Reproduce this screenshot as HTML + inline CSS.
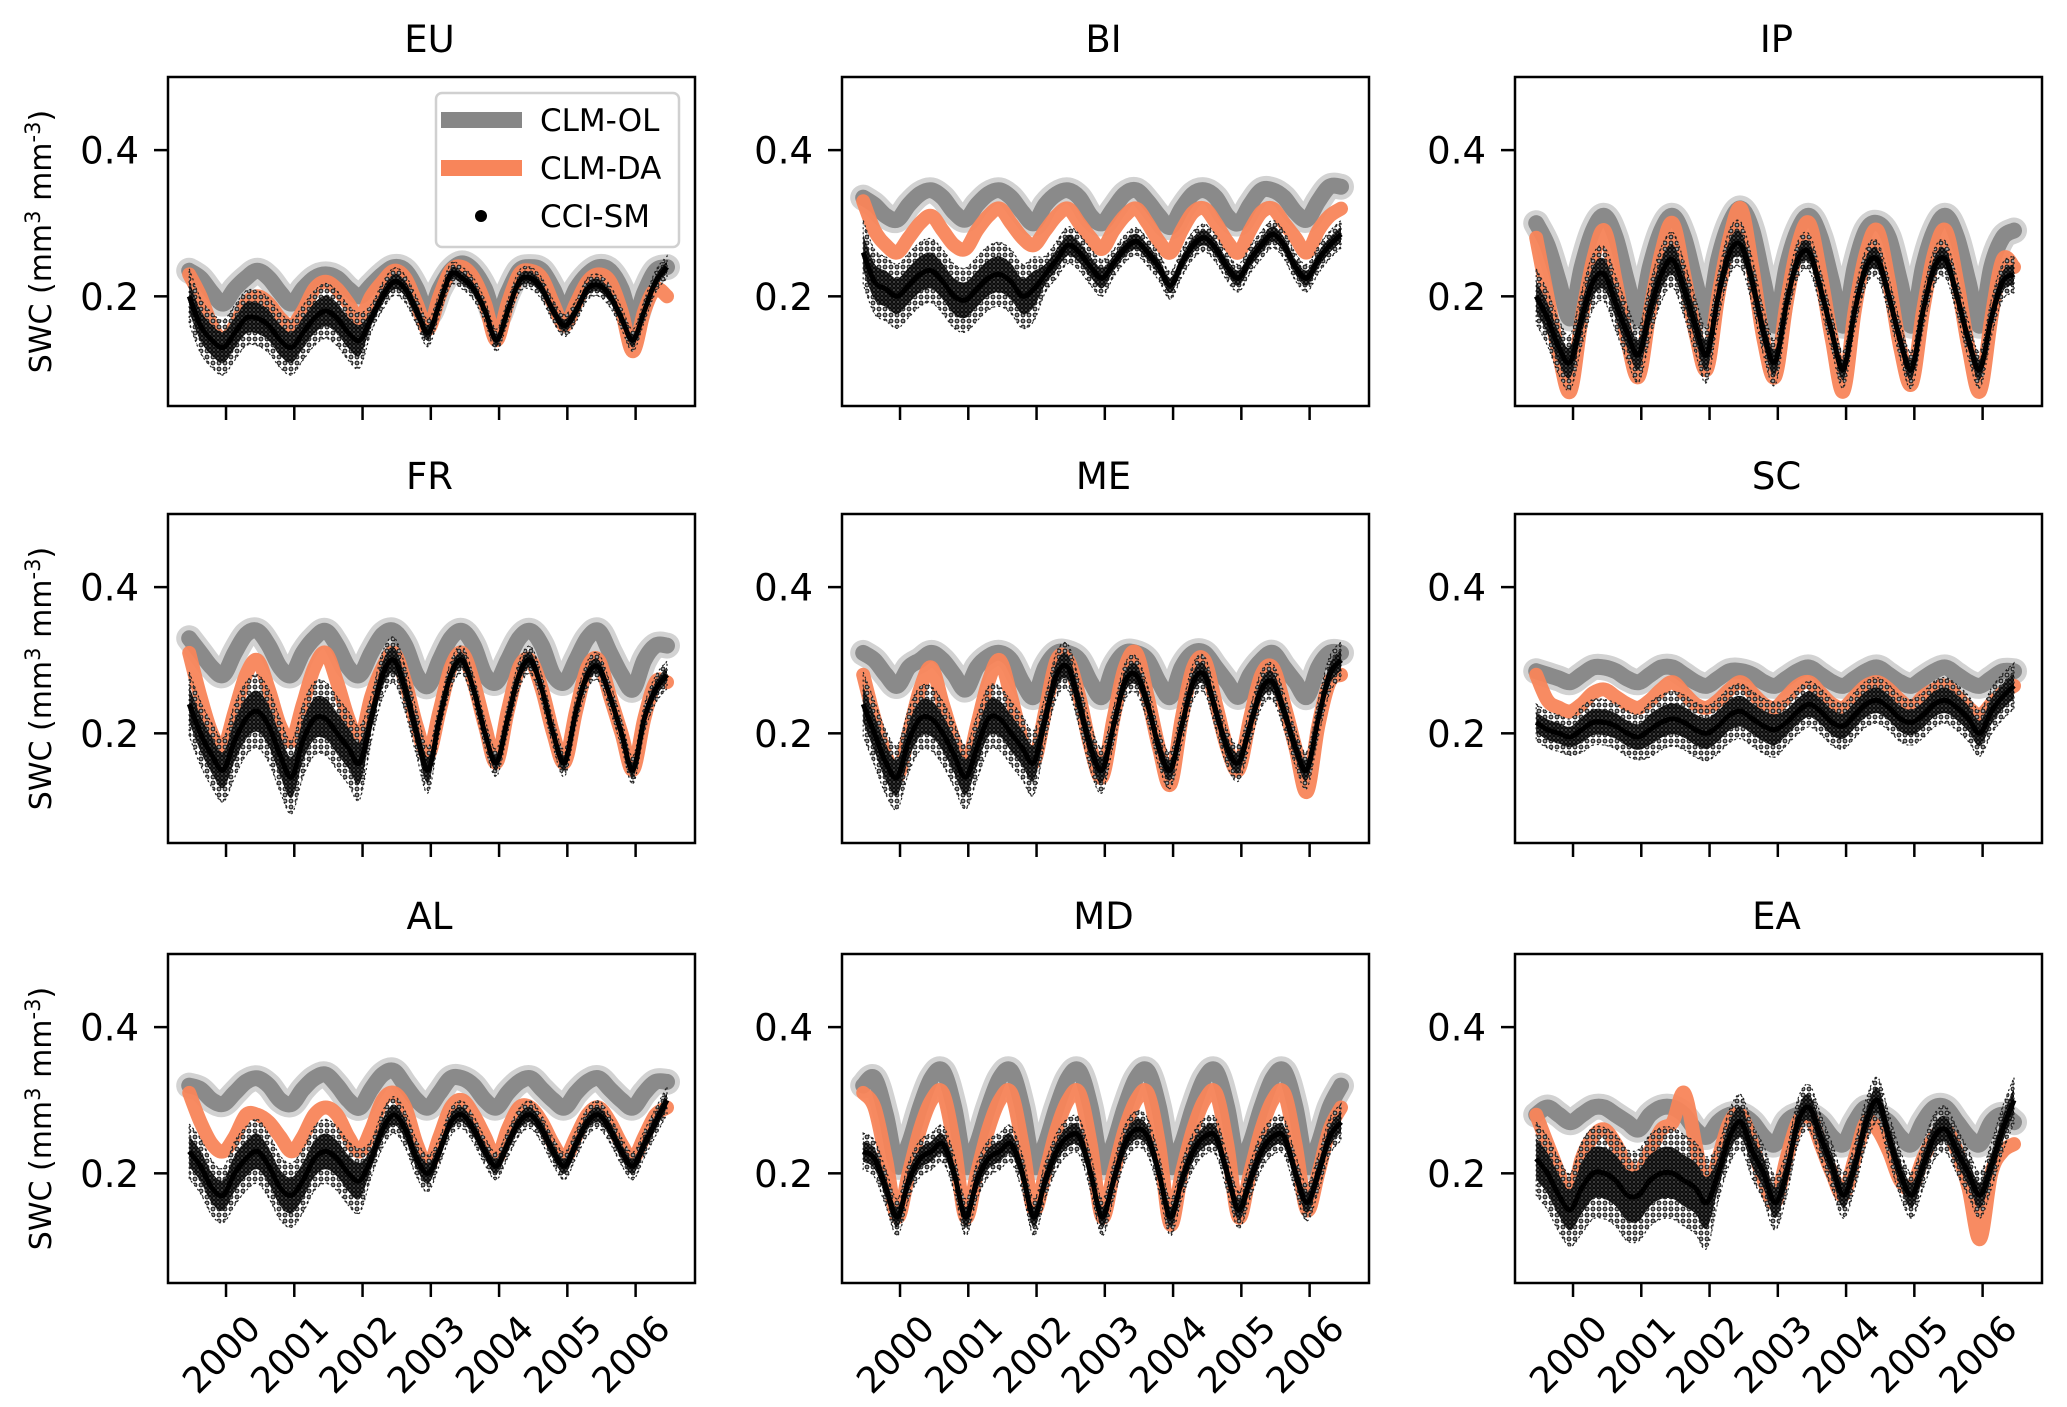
<!DOCTYPE html>
<html><head><meta charset="utf-8"><style>
html,body{margin:0;padding:0;background:#fff;}
svg{display:block;font-family:"DejaVu Sans","Liberation Sans",sans-serif;}
</style></head><body>
<svg id="fig" width="2067" height="1407" viewBox="0 0 2067 1407" xmlns="http://www.w3.org/2000/svg">
<defs>
<pattern id="dotsOuter" width="6" height="6" patternUnits="userSpaceOnUse"><circle cx="3" cy="3" r="1.9" fill="#999" stroke="#111" stroke-width="1"/></pattern>
<pattern id="dotsInner" width="4" height="4" patternUnits="userSpaceOnUse"><rect width="4" height="4" fill="#222"/><circle cx="2" cy="2" r="1.3" fill="#666" stroke="#000" stroke-width="0.8"/></pattern>
</defs>
</svg>
<script>
const regions = ["EU","BI","IP","FR","ME","SC","AL","MD","EA"];
const tStart = 1999.46, tStep = 1/6;
const yTicks = [0.2, 0.4];
const xTickYears = [2000,2001,2002,2003,2004,2005,2006];
const xTickLabels = ["2000","2001","2002","2003","2004","2005","2006"];
const spreadYears = [1999,2000,2001,2002,2003,2004,2005,2006];

const olEU=[0.235,0.225,0.205,0.19,0.21,0.225,0.235,0.225,0.205,0.19,0.21,0.225,0.23,0.225,0.21,0.20,0.215,0.23,0.24,0.235,0.21,0.175,0.21,0.235,0.245,0.235,0.21,0.17,0.205,0.235,0.24,0.235,0.21,0.18,0.21,0.23,0.24,0.235,0.21,0.165,0.205,0.235,0.24];
const daEU=[0.23,0.20,0.16,0.14,0.16,0.19,0.20,0.19,0.17,0.16,0.18,0.21,0.22,0.21,0.19,0.17,0.20,0.22,0.235,0.225,0.19,0.155,0.20,0.235,0.24,0.225,0.19,0.14,0.19,0.23,0.235,0.225,0.19,0.16,0.19,0.22,0.23,0.22,0.18,0.125,0.18,0.21,0.20];
const obsEU=[0.20,0.16,0.14,0.13,0.15,0.17,0.17,0.16,0.14,0.13,0.15,0.17,0.18,0.17,0.15,0.14,0.17,0.20,0.22,0.21,0.18,0.15,0.19,0.23,0.225,0.21,0.18,0.14,0.18,0.22,0.225,0.21,0.18,0.16,0.18,0.21,0.215,0.20,0.17,0.14,0.18,0.22,0.24];
const spEU=[0.03,0.03,0.03,0.015,0.012,0.012,0.012,0.012];

const olBI=[0.335,0.325,0.31,0.305,0.325,0.34,0.345,0.335,0.315,0.305,0.325,0.34,0.345,0.335,0.315,0.30,0.325,0.34,0.345,0.335,0.31,0.30,0.32,0.34,0.345,0.33,0.31,0.295,0.32,0.34,0.345,0.335,0.31,0.30,0.325,0.345,0.345,0.335,0.315,0.305,0.33,0.35,0.35];
const daBI=[0.33,0.29,0.27,0.26,0.28,0.30,0.31,0.29,0.27,0.265,0.29,0.31,0.32,0.30,0.28,0.27,0.29,0.31,0.32,0.30,0.28,0.265,0.29,0.31,0.32,0.30,0.275,0.26,0.29,0.315,0.32,0.30,0.275,0.26,0.29,0.315,0.32,0.30,0.28,0.26,0.29,0.31,0.32];
const obsBI=[0.26,0.22,0.21,0.20,0.215,0.23,0.235,0.22,0.20,0.195,0.21,0.225,0.23,0.22,0.20,0.21,0.23,0.25,0.27,0.26,0.24,0.225,0.245,0.265,0.275,0.26,0.24,0.215,0.245,0.27,0.28,0.265,0.24,0.225,0.25,0.27,0.285,0.27,0.24,0.225,0.25,0.27,0.285];
const spBI=[0.035,0.035,0.035,0.02,0.015,0.015,0.015,0.015];

const olIP=[0.30,0.27,0.22,0.17,0.24,0.29,0.31,0.28,0.22,0.17,0.24,0.29,0.31,0.28,0.22,0.17,0.25,0.30,0.32,0.29,0.22,0.16,0.24,0.29,0.31,0.28,0.22,0.16,0.24,0.29,0.30,0.28,0.22,0.16,0.24,0.29,0.31,0.28,0.22,0.16,0.24,0.28,0.29];
const daIP=[0.28,0.20,0.12,0.07,0.17,0.25,0.29,0.22,0.14,0.09,0.18,0.26,0.30,0.23,0.15,0.10,0.20,0.28,0.32,0.24,0.14,0.09,0.19,0.27,0.30,0.23,0.14,0.07,0.18,0.26,0.29,0.22,0.13,0.08,0.18,0.26,0.29,0.22,0.13,0.07,0.17,0.25,0.24];
const obsIP=[0.20,0.17,0.13,0.11,0.17,0.22,0.23,0.19,0.15,0.12,0.18,0.23,0.25,0.21,0.16,0.12,0.20,0.26,0.27,0.22,0.15,0.11,0.19,0.25,0.26,0.21,0.15,0.10,0.18,0.24,0.25,0.20,0.14,0.10,0.18,0.24,0.25,0.20,0.14,0.10,0.17,0.22,0.23];
const spIP=[0.03,0.03,0.03,0.025,0.02,0.02,0.02,0.02];

const olFR=[0.33,0.31,0.29,0.28,0.31,0.335,0.34,0.32,0.29,0.28,0.31,0.33,0.34,0.32,0.29,0.28,0.31,0.335,0.34,0.32,0.28,0.265,0.30,0.33,0.34,0.32,0.28,0.27,0.30,0.33,0.34,0.32,0.28,0.27,0.30,0.33,0.34,0.31,0.28,0.26,0.30,0.32,0.32];
const daFR=[0.31,0.25,0.20,0.18,0.23,0.28,0.30,0.26,0.21,0.19,0.24,0.29,0.31,0.27,0.22,0.19,0.25,0.29,0.31,0.27,0.21,0.17,0.23,0.29,0.31,0.27,0.21,0.16,0.23,0.29,0.30,0.26,0.20,0.16,0.23,0.29,0.30,0.25,0.20,0.15,0.22,0.27,0.27];
const obsFR=[0.24,0.20,0.17,0.15,0.19,0.22,0.23,0.21,0.17,0.14,0.19,0.22,0.22,0.20,0.18,0.16,0.22,0.28,0.30,0.26,0.20,0.15,0.22,0.28,0.30,0.26,0.20,0.16,0.22,0.28,0.30,0.26,0.20,0.16,0.23,0.28,0.29,0.25,0.20,0.15,0.22,0.26,0.28];
const spFR=[0.035,0.04,0.04,0.025,0.015,0.015,0.015,0.015];

const olME=[0.31,0.30,0.28,0.265,0.29,0.30,0.31,0.30,0.28,0.26,0.29,0.305,0.31,0.30,0.27,0.25,0.29,0.31,0.31,0.30,0.27,0.25,0.29,0.31,0.31,0.30,0.27,0.25,0.29,0.31,0.31,0.29,0.27,0.25,0.28,0.30,0.31,0.29,0.27,0.25,0.29,0.31,0.31];
const daME=[0.28,0.22,0.17,0.14,0.20,0.26,0.29,0.24,0.19,0.15,0.21,0.27,0.30,0.25,0.19,0.16,0.23,0.30,0.30,0.25,0.18,0.14,0.22,0.29,0.31,0.25,0.18,0.13,0.22,0.29,0.30,0.24,0.18,0.15,0.22,0.28,0.29,0.24,0.18,0.12,0.21,0.27,0.28];
const obsME=[0.24,0.20,0.16,0.14,0.19,0.22,0.22,0.20,0.17,0.14,0.18,0.22,0.22,0.20,0.18,0.16,0.22,0.28,0.29,0.24,0.18,0.15,0.21,0.27,0.28,0.24,0.18,0.15,0.21,0.27,0.28,0.23,0.18,0.16,0.21,0.26,0.27,0.23,0.18,0.15,0.22,0.28,0.30];
const spME=[0.035,0.035,0.035,0.025,0.02,0.02,0.02,0.02];

const olSC=[0.285,0.28,0.275,0.27,0.28,0.29,0.29,0.285,0.275,0.27,0.28,0.29,0.29,0.28,0.27,0.265,0.275,0.285,0.285,0.28,0.27,0.265,0.275,0.285,0.29,0.28,0.27,0.265,0.275,0.285,0.29,0.28,0.27,0.265,0.275,0.285,0.29,0.28,0.27,0.265,0.275,0.285,0.285];
const daSC=[0.28,0.245,0.235,0.23,0.24,0.255,0.26,0.25,0.24,0.235,0.245,0.26,0.27,0.255,0.24,0.235,0.245,0.26,0.27,0.255,0.24,0.235,0.25,0.265,0.27,0.255,0.24,0.235,0.25,0.265,0.27,0.26,0.245,0.235,0.25,0.26,0.265,0.25,0.235,0.225,0.24,0.255,0.265];
const obsSC=[0.215,0.205,0.20,0.195,0.205,0.215,0.215,0.21,0.20,0.195,0.205,0.215,0.22,0.215,0.205,0.20,0.21,0.225,0.23,0.22,0.21,0.205,0.215,0.23,0.24,0.23,0.215,0.21,0.225,0.24,0.245,0.235,0.22,0.215,0.225,0.24,0.245,0.235,0.22,0.20,0.23,0.25,0.265];
const spSC=[0.02,0.025,0.03,0.03,0.025,0.025,0.025,0.025];

const olAL=[0.32,0.315,0.30,0.295,0.31,0.325,0.33,0.32,0.30,0.295,0.315,0.33,0.335,0.32,0.30,0.29,0.315,0.335,0.34,0.32,0.30,0.29,0.31,0.33,0.33,0.32,0.30,0.29,0.31,0.325,0.33,0.315,0.30,0.29,0.31,0.325,0.33,0.315,0.30,0.29,0.31,0.325,0.325];
const daAL=[0.31,0.27,0.24,0.23,0.25,0.28,0.28,0.27,0.25,0.23,0.25,0.28,0.29,0.28,0.25,0.23,0.26,0.30,0.31,0.29,0.24,0.21,0.25,0.29,0.30,0.28,0.25,0.22,0.26,0.29,0.29,0.27,0.24,0.22,0.25,0.28,0.29,0.27,0.24,0.22,0.25,0.28,0.29];
const obsAL=[0.23,0.21,0.18,0.17,0.20,0.22,0.23,0.21,0.18,0.17,0.19,0.22,0.23,0.22,0.20,0.19,0.22,0.26,0.28,0.26,0.22,0.20,0.23,0.27,0.28,0.26,0.23,0.21,0.24,0.27,0.28,0.26,0.23,0.21,0.24,0.27,0.28,0.26,0.23,0.21,0.24,0.27,0.30];
const spAL=[0.03,0.035,0.035,0.02,0.015,0.015,0.015,0.015];

const olMD=[0.32,0.33,0.28,0.21,0.24,0.29,0.33,0.34,0.29,0.21,0.24,0.29,0.33,0.34,0.29,0.21,0.24,0.29,0.33,0.34,0.29,0.21,0.24,0.29,0.33,0.34,0.29,0.21,0.24,0.29,0.33,0.34,0.29,0.21,0.24,0.29,0.33,0.34,0.29,0.21,0.24,0.29,0.32];
const daMD=[0.31,0.29,0.22,0.14,0.20,0.26,0.30,0.31,0.24,0.14,0.20,0.26,0.30,0.31,0.24,0.15,0.20,0.26,0.30,0.31,0.24,0.14,0.20,0.26,0.30,0.31,0.24,0.13,0.20,0.26,0.30,0.31,0.24,0.14,0.20,0.26,0.30,0.31,0.24,0.15,0.20,0.26,0.29];
const obsMD=[0.23,0.22,0.18,0.14,0.19,0.22,0.23,0.24,0.20,0.14,0.19,0.22,0.23,0.24,0.20,0.14,0.19,0.23,0.25,0.25,0.20,0.14,0.19,0.24,0.26,0.25,0.20,0.14,0.19,0.23,0.25,0.25,0.20,0.15,0.19,0.23,0.25,0.25,0.20,0.16,0.20,0.25,0.27];
const spMD=[0.02,0.02,0.02,0.02,0.02,0.02,0.02,0.02];

const olEA=[0.28,0.29,0.28,0.27,0.28,0.29,0.29,0.28,0.27,0.26,0.28,0.29,0.29,0.28,0.26,0.25,0.27,0.28,0.28,0.27,0.25,0.24,0.27,0.28,0.28,0.27,0.25,0.24,0.27,0.29,0.28,0.27,0.25,0.24,0.27,0.29,0.29,0.27,0.25,0.24,0.27,0.28,0.27];
const daEA=[0.28,0.24,0.20,0.16,0.22,0.25,0.26,0.24,0.21,0.20,0.23,0.26,0.27,0.31,0.24,0.17,0.22,0.27,0.28,0.24,0.19,0.16,0.22,0.27,0.28,0.24,0.20,0.17,0.22,0.27,0.26,0.23,0.19,0.18,0.22,0.25,0.26,0.23,0.18,0.11,0.20,0.23,0.24];
const obsEA=[0.22,0.20,0.17,0.15,0.18,0.20,0.20,0.19,0.17,0.17,0.19,0.20,0.20,0.19,0.18,0.16,0.20,0.25,0.27,0.23,0.20,0.16,0.20,0.27,0.29,0.25,0.21,0.17,0.21,0.27,0.30,0.25,0.20,0.17,0.21,0.25,0.26,0.23,0.20,0.17,0.21,0.26,0.30];
const spEA=[0.04,0.05,0.05,0.03,0.025,0.025,0.025,0.025];

const OL={EU:olEU,BI:olBI,IP:olIP,FR:olFR,ME:olME,SC:olSC,AL:olAL,MD:olMD,EA:olEA};
const DA={EU:daEU,BI:daBI,IP:daIP,FR:daFR,ME:daME,SC:daSC,AL:daAL,MD:daMD,EA:daEA};
const OBS={EU:obsEU,BI:obsBI,IP:obsIP,FR:obsFR,ME:obsME,SC:obsSC,AL:obsAL,MD:obsMD,EA:obsEA};
const SP={EU:spEU,BI:spBI,IP:spIP,FR:spFR,ME:spME,SC:spSC,AL:spAL,MD:spMD,EA:spEA};

const NS="http://www.w3.org/2000/svg";
const svg=document.getElementById('fig');
const colLeft=[168,842,1515], rowTop=[77,514,954], W=527, H=329;
const xMin=1999.15, xMax=2006.87, yMin=0.05, yMax=0.5;

function mk(tag,attrs,parent){const e=document.createElementNS(NS,tag);for(const k in attrs)e.setAttribute(k,attrs[k]);parent.appendChild(e);return e;}
function smooth(pts){
  let d="M"+pts[0][0].toFixed(1)+","+pts[0][1].toFixed(1);
  for(let i=0;i<pts.length-1;i++){
    const p0=pts[Math.max(0,i-1)],p1=pts[i],p2=pts[i+1],p3=pts[Math.min(pts.length-1,i+2)];
    const c1=[p1[0]+(p2[0]-p0[0])/6,p1[1]+(p2[1]-p0[1])/6],c2=[p2[0]-(p3[0]-p1[0])/6,p2[1]-(p3[1]-p1[1])/6];
    d+="C"+c1[0].toFixed(1)+","+c1[1].toFixed(1)+" "+c2[0].toFixed(1)+","+c2[1].toFixed(1)+" "+p2[0].toFixed(1)+","+p2[1].toFixed(1);
  }
  return d;
}

regions.forEach((reg,idx)=>{
  const c=idx%3,r=Math.floor(idx/3),L=colLeft[c],T=rowTop[r];
  const xs=t=>L+(t-xMin)/(xMax-xMin)*W;
  const ys=v=>T+H-(v-yMin)/(yMax-yMin)*H;
  const g=mk('g',{},svg);
  
  
  const cp=mk('clipPath',{id:'clip'+idx},g);
  mk('rect',{x:L,y:T,width:W,height:H},cp);
  const plot=mk('g',{'clip-path':'url(#clip'+idx+')'},g);
  const times=OL[reg].map((_,i)=>tStart+i*tStep);
  const olPts=OL[reg].map((v,i)=>[xs(times[i]),ys(v)]);
  const olHalo=mk('path',{d:smooth(olPts),fill:'none',stroke:'#d2d2d2','stroke-width':26,'stroke-linejoin':'round','stroke-linecap':'round'},plot);
  
  
  const olLine=mk('path',{d:smooth(olPts),fill:'none',stroke:'#8a8a8a','stroke-width':16,'stroke-linejoin':'round','stroke-linecap':'round'},plot);
  
  
  const daPts=DA[reg].map((v,i)=>[xs(times[i]),ys(v)]);
  const daLine=mk('path',{d:smooth(daPts),fill:'none',stroke:'#f8855a','stroke-width':14,'stroke-linejoin':'round','stroke-linecap':'round','stroke-opacity':0.95},plot);
  
  
  const spr=SP[reg];
  const spAt=t=>spr[Math.max(0,Math.min(spr.length-1,spreadYears.indexOf(Math.floor(t))))];
  const band=(f)=>{
    const up=OBS[reg].map((v,i)=>[xs(times[i]),ys(v+spAt(times[i])*f)]);
    const lo=OBS[reg].map((v,i)=>[xs(times[i]),ys(v-spAt(times[i])*f)]).reverse();
    return smooth(up)+"L"+smooth(lo).slice(1)+"Z";
  };
  const outer=mk('path',{d:band(1.25),fill:'url(#dotsOuter)',stroke:'#222','stroke-width':1.2,'stroke-dasharray':'2 3'},plot);
  
  
  const inner=mk('path',{d:band(0.7),fill:'url(#dotsInner)',stroke:'none'},plot);
  
  
  const obsPts=OBS[reg].map((v,i)=>[xs(times[i]),ys(v)]);
  const obsLine=mk('path',{d:smooth(obsPts),fill:'none',stroke:'#000','stroke-width':5},plot);
  
  
  const frame=mk('rect',{x:L,y:T,width:W,height:H,fill:'none',stroke:'#000','stroke-width':2.5},g);
  
  
  yTicks.forEach(v=>{
    const y=ys(v);
    const tk=mk('line',{x1:L-14,x2:L,y1:y,y2:y,stroke:'#000','stroke-width':2.5},g);
    
    
    const tl=mk('text',{x:L-29,y:y+13.5,'text-anchor':'end','font-size':37,fill:'#000'},g);
    tl.textContent=String(v);
    
    
  });
  xTickYears.forEach((yr,k)=>{
    const x=xs(yr);
    const tk=mk('line',{x1:x,x2:x,y1:T+H,y2:T+H+14,stroke:'#000','stroke-width':2.5},g);
    
    
    if(r===2){
      const cy=T+H+71;
      const tl=mk('text',{x:x-5,y:cy+13,'text-anchor':'middle','font-size':36,fill:'#000',transform:'rotate(-45 '+(x-5)+' '+cy+')'},g);
      tl.textContent=xTickLabels[k];
      
      
    }
  });
  const tt=mk('text',{x:L+W/2-2,y:T-25,'text-anchor':'middle','font-size':37,fill:'#000'},g);
  tt.textContent=reg;
  
  
  if(c===0){
    const yl=mk('text',{x:0,y:0,'text-anchor':'middle','font-size':30,fill:'#000',transform:'translate(51 '+(T+H/2)+') rotate(-90)'},g);
    yl.innerHTML='SWC  (mm<tspan dy="-11" font-size="21">3</tspan><tspan dy="11"> mm</tspan><tspan dy="-11" font-size="21">-3</tspan><tspan dy="11">)</tspan>';
    
    
  }
});

const lg=mk('g',{},svg);


mk('rect',{x:436,y:93,width:243,height:154,rx:6,fill:'#fff','fill-opacity':0.85,stroke:'#d0d0d0','stroke-width':2.5},lg);
const e1=mk('g',{},lg);


mk('rect',{x:441,y:112,width:81,height:16,fill:'#878787'},e1);
const t1=mk('text',{x:540,y:131,'font-size':31,fill:'#000'},e1);t1.textContent='CLM-OL';
const e2=mk('g',{},lg);


mk('rect',{x:441,y:160,width:81,height:16,fill:'#f8855a'},e2);
const t2=mk('text',{x:540,y:179,'font-size':31,fill:'#000'},e2);t2.textContent='CLM-DA';
const e3=mk('g',{},lg);


mk('circle',{cx:481,cy:216,r:6,fill:'#000'},e3);
const t3=mk('text',{x:540,y:227,'font-size':31,fill:'#000'},e3);t3.textContent='CCI-SM';
</script>
</body></html>
